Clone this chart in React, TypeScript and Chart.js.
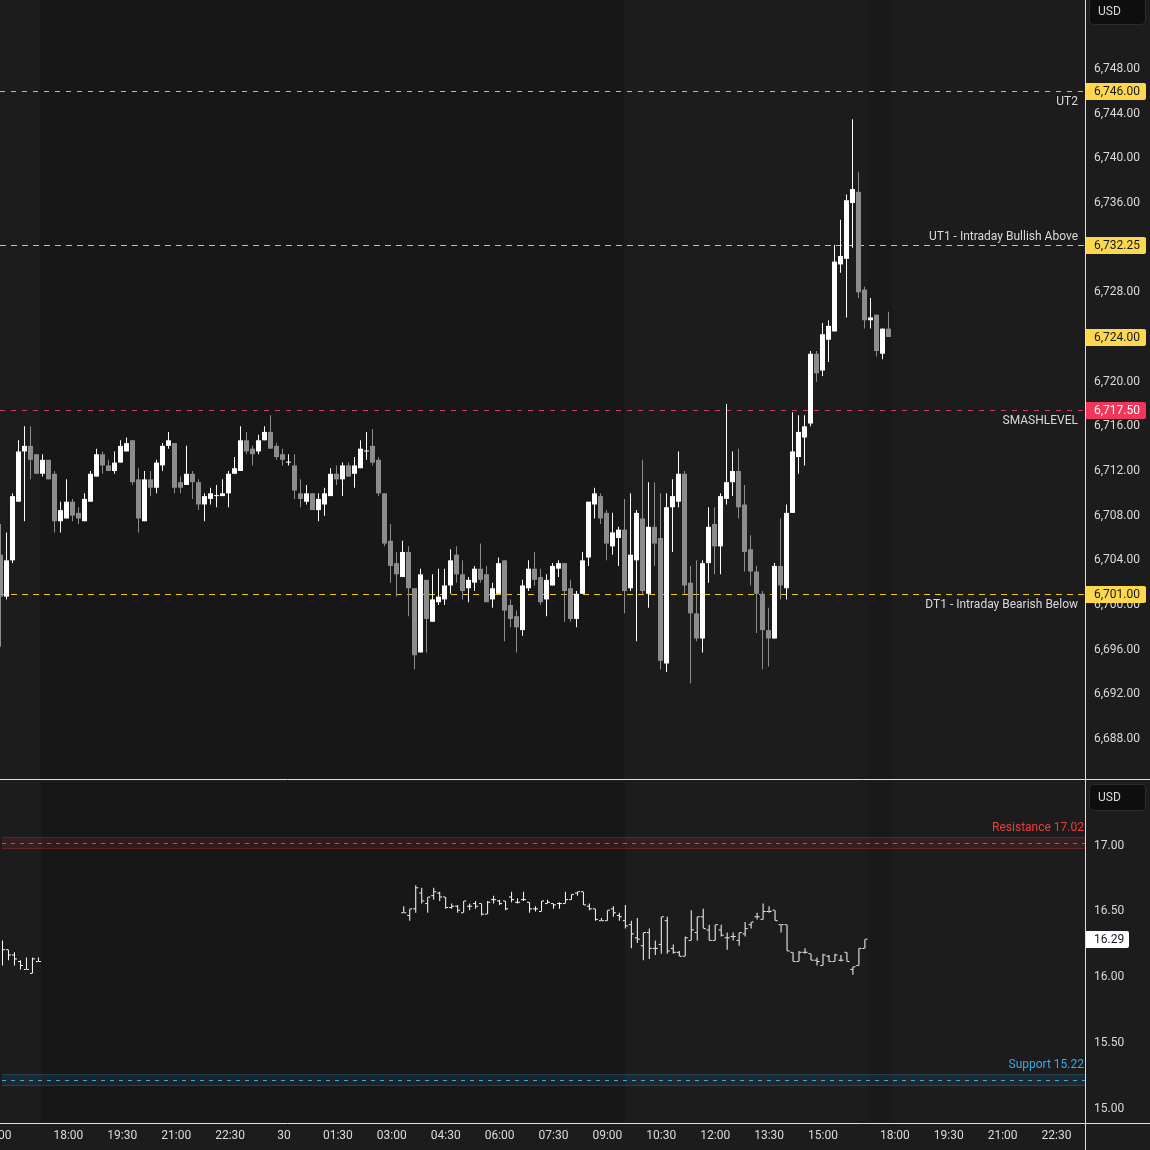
import { useEffect, useRef } from 'react';
import { Chart, registerables } from 'chart.js';
Chart.register(...registerables);

// ---------------- DATA ----------------
// E-mini S&P 500, 10-minute candles. Bar index 0 = 18:00 session open (6 bars per hour).
const esFirstBar = -11;
const esOpen = [
  6704.5, 6700.75, 6704, 6709.25, 6713.75, 6714.25, 6713.5, 6711.75, 6713, 6711.75,
  6707.5, 6707.75, 6709.25, 6708.25, 6707.5, 6709.25, 6711.5, 6713.5, 6712.5, 6712,
  6712.75, 6713.75, 6714.75, 6711.25, 6707.5, 6711.25, 6710.5, 6712.5, 6714.25, 6714.5,
  6711, 6710.75, 6711.75, 6711, 6709, 6709.5, 6709.75, 6709.75, 6710, 6711.75,
  6712, 6714.75, 6714, 6713.75, 6714.75, 6715.5, 6714.25, 6713.5, 6712.75, 6712.5,
  6710, 6709.25, 6710, 6708.5, 6709, 6709.75, 6711.75, 6711.25, 6712.5, 6711.75,
  6712.25, 6713.75, 6714.25, 6713, 6710, 6705.75, 6703.75, 6702.5, 6704.75, 6701.5,
  6695.75, 6702.25, 6698.5, 6700.25, 6700.5, 6701.75, 6704.5, 6702.75, 6701.5, 6702,
  6703.25, 6702.75, 6700.5, 6701, 6704, 6700, 6699, 6697.75, 6701.5, 6703.25,
  6702.5, 6700.5, 6701.75, 6703.25, 6703.75, 6701.5, 6698.75, 6701, 6704.25, 6709,
  6709.75, 6708.25, 6705.25, 6706, 6706.75, 6701.5, 6704, 6707.75, 6701, 6707,
  6706, 6694.75, 6708.75, 6709.25, 6711.75, 6702, 6699.25, 6697, 6703.75, 6707.25,
  6705.25, 6709.5, 6711, 6712, 6709, 6705, 6703, 6701, 6697.75, 6697,
  6703.5, 6701.5, 6708.25, 6713.25, 6715, 6716.25, 6722.5, 6721, 6723.75, 6724.5,
  6730.5, 6731, 6736, 6737, 6728.25, 6725.5, 6726, 6722.5, 6724.75,
];
const esHigh = [
  6707.25, 6706.5, 6710, 6714.75, 6716, 6716, 6713.5, 6713.5, 6713, 6712,
  6709.25, 6711.25, 6709.5, 6708.75, 6710, 6712, 6714, 6713.75, 6713, 6713.75,
  6714.75, 6715, 6714.75, 6712.25, 6712, 6712, 6713, 6714.5, 6715.5, 6714.5,
  6711.5, 6714.25, 6712, 6711.25, 6710, 6710.5, 6710.75, 6711.25, 6712, 6713.25,
  6716, 6715.5, 6714.25, 6715.25, 6716, 6717, 6714.5, 6714, 6713.5, 6713.5,
  6711.25, 6710.75, 6710, 6710, 6710.5, 6712.25, 6712.5, 6712.75, 6712.75, 6713.25,
  6714.75, 6715.5, 6715.75, 6713.25, 6710, 6707.25, 6704.75, 6705.75, 6705.25, 6701.5,
  6703.25, 6702.25, 6702.75, 6703.25, 6703.25, 6705, 6705.25, 6704, 6702.5, 6703.5,
  6705.5, 6703.5, 6702, 6704.25, 6704, 6700.5, 6699.5, 6702.25, 6704, 6704.75,
  6703.25, 6702.75, 6703.75, 6704, 6703.75, 6702.25, 6701.25, 6704.75, 6709.25, 6710.5,
  6710, 6708.5, 6708.25, 6707, 6709.5, 6710, 6708.5, 6713, 6711, 6711,
  6710, 6710, 6711.25, 6713.75, 6712, 6703.5, 6704, 6704, 6708.75, 6708.75,
  6710, 6718, 6713.75, 6714, 6710.75, 6706.25, 6703.5, 6701.25, 6699.75, 6703.75,
  6707.75, 6709, 6717.25, 6717, 6717, 6722.75, 6722.75, 6725.25, 6725.5, 6732.25,
  6734.5, 6736.75, 6743.5, 6738.75, 6728.5, 6727.5, 6726, 6724.75, 6726.25,
];
const esLow = [
  6696.25, 6700.5, 6703.75, 6709.25, 6707.5, 6711.25, 6711.75, 6711.5, 6711.25, 6706.5,
  6706.5, 6707.75, 6707.5, 6707.25, 6707.5, 6709.25, 6711.5, 6711.75, 6712, 6711.75,
  6712.75, 6713.75, 6710.75, 6706.5, 6707.5, 6709.75, 6710, 6712, 6714, 6710,
  6710, 6710.75, 6709.5, 6708.5, 6707.5, 6709, 6708.75, 6709.75, 6708.75, 6711.75,
  6712, 6713.5, 6712.5, 6713.5, 6714.75, 6714, 6713, 6712.5, 6712.5, 6709.5,
  6708.75, 6709, 6708.5, 6707.5, 6708, 6709.75, 6710.75, 6709.75, 6711.5, 6710.5,
  6712.25, 6713, 6712.5, 6709.75, 6705.25, 6702, 6700.75, 6702.5, 6699, 6694.25,
  6695.75, 6695.75, 6698.5, 6700, 6700, 6701, 6702, 6700.5, 6700.25, 6701.25,
  6702, 6700.25, 6699.75, 6701, 6696.75, 6698, 6695.75, 6697.25, 6701.25, 6701.75,
  6700, 6699, 6701.75, 6702.5, 6698.5, 6698.5, 6698, 6701, 6703.5, 6707.75,
  6707.25, 6704, 6704.5, 6703.5, 6699.25, 6701.25, 6696.75, 6701, 6699.75, 6703.5,
  6694.25, 6694, 6704.75, 6708.75, 6701, 6693, 6696.75, 6695.75, 6702, 6702.75,
  6702.75, 6709, 6709.75, 6707.75, 6703, 6701.75, 6697.5, 6694.25, 6694.5, 6697,
  6700.5, 6700.5, 6708.25, 6711.75, 6712.5, 6716, 6720, 6720.5, 6721.75, 6724.5,
  6729.75, 6725.75, 6732, 6727.5, 6724.75, 6724.75, 6722.25, 6722, 6724,
];
const esClose = [
  6700.75, 6704, 6709.75, 6713.75, 6714.25, 6713, 6711.75, 6713, 6711.25, 6707.5,
  6708.5, 6709.25, 6708, 6707.75, 6709.5, 6711.75, 6713.5, 6712.5, 6712, 6712.75,
  6714.25, 6714.5, 6711, 6707.75, 6711.25, 6710.5, 6712.75, 6714.25, 6714.75, 6710.5,
  6710.5, 6711.75, 6711, 6709, 6709.75, 6710, 6709.75, 6710, 6711.75, 6712.25,
  6714.75, 6713.75, 6713.5, 6714.75, 6715.5, 6714, 6713.25, 6713, 6712.75, 6710.25,
  6709.5, 6710, 6708.5, 6709.5, 6710, 6711.75, 6711.25, 6712.5, 6711.5, 6712.5,
  6714, 6713.75, 6712.75, 6710, 6705.5, 6703.5, 6702.75, 6704.75, 6701.5, 6695.5,
  6702.75, 6698.75, 6700.5, 6700.75, 6701.75, 6704, 6702.75, 6701.25, 6702.25, 6703.25,
  6702.25, 6700.25, 6701.5, 6703.75, 6699.5, 6698.75, 6698, 6701.75, 6703.25, 6702.25,
  6700.25, 6702.25, 6703.5, 6703.75, 6701.25, 6698.75, 6701, 6704, 6709.25, 6710,
  6707.75, 6705.5, 6706.5, 6706.75, 6701.25, 6704.5, 6708.25, 6701.25, 6707, 6705.5,
  6695, 6708.75, 6709.75, 6711.75, 6701.75, 6699.25, 6697, 6703.75, 6707, 6705.25,
  6709.75, 6711, 6712, 6708.75, 6704.75, 6703, 6701, 6697.75, 6697, 6703.5,
  6701.75, 6708.25, 6713.75, 6715.5, 6716, 6722.5, 6720.75, 6724.25, 6725, 6730.75,
  6731.25, 6736.25, 6737.25, 6728, 6725.5, 6725.75, 6722.75, 6724.75, 6724,
];

// VIX, 10-minute OHLC bars: previous afternoon, then the current session
const vixPrevFirstBar = -11;
const vixPrevOpen = [16.25, 16.21, 16.17, 16.12, 16.06, 16.03, 16.12];
const vixPrevHigh = [16.28, 16.21, 16.19, 16.13, 16.15, 16.15, 16.15];
const vixPrevLow = [16.09, 16.13, 16.09, 16.06, 16.06, 16.03, 16.12];
const vixPrevClose = [16.21, 16.17, 16.14, 16.09, 16.06, 16.14, 16.12];

const vixFirstBar = 56;
const vixOpen = [
  16.49, 16.47, 16.52, 16.64, 16.56, 16.62, 16.64, 16.61, 16.53, 16.54, 16.49, 16.54, 16.56, 16.56, 16.48, 16.59, 16.58, 16.58, 16.61, 16.57,
  16.59, 16.57, 16.52, 16.50, 16.56, 16.56, 16.56, 16.56, 16.59, 16.64, 16.65, 16.54, 16.52, 16.43, 16.43, 16.52, 16.47, 16.43,
  16.40, 16.30, 16.24, 16.34, 16.22, 16.25, 16.43, 16.22, 16.19, 16.16, 16.28, 16.34, 16.46, 16.36, 16.28, 16.36, 16.30, 16.31, 16.28, 16.33,
  16.40, 16.46, 16.44, 16.50, 16.51, 16.40, 16.40, 16.19, 16.12, 16.19, 16.18, 16.13, 16.09, 16.16, 16.12, 16.13, 16.19, 16.06, 16.09, 16.22,
];
const vixHigh = [
  16.54, 16.52, 16.70, 16.68, 16.61, 16.68, 16.65, 16.61, 16.56, 16.55, 16.58, 16.56, 16.58, 16.56, 16.58, 16.62, 16.59, 16.58, 16.65, 16.60,
  16.65, 16.57, 16.54, 16.58, 16.59, 16.56, 16.57, 16.65, 16.63, 16.65, 16.65, 16.56, 16.52, 16.45, 16.51, 16.54, 16.49, 16.55,
  16.43, 16.45, 16.34, 16.37, 16.28, 16.46, 16.46, 16.25, 16.20, 16.31, 16.51, 16.46, 16.52, 16.40, 16.40, 16.40, 16.34, 16.34, 16.34, 16.42,
  16.42, 16.49, 16.56, 16.54, 16.51, 16.40, 16.40, 16.19, 16.20, 16.22, 16.18, 16.15, 16.18, 16.17, 16.18, 16.17, 16.19, 16.08, 16.22, 16.29,
];
const vixLow = [
  16.49, 16.43, 16.49, 16.56, 16.49, 16.59, 16.58, 16.52, 16.52, 16.49, 16.49, 16.51, 16.52, 16.47, 16.48, 16.56, 16.55, 16.51, 16.57, 16.56,
  16.58, 16.49, 16.50, 16.50, 16.56, 16.52, 16.52, 16.56, 16.59, 16.62, 16.55, 16.51, 16.43, 16.43, 16.43, 16.46, 16.43, 16.37,
  16.22, 16.26, 16.13, 16.14, 16.17, 16.18, 16.18, 16.18, 16.16, 16.16, 16.28, 16.28, 16.37, 16.28, 16.28, 16.31, 16.21, 16.28, 16.24, 16.31,
  16.37, 16.44, 16.44, 16.49, 16.43, 16.34, 16.20, 16.12, 16.12, 16.18, 16.13, 16.09, 16.09, 16.12, 16.12, 16.12, 16.12, 16.02, 16.09, 16.22,
];
const vixClose = [
  16.49, 16.52, 16.68, 16.58, 16.61, 16.65, 16.61, 16.53, 16.54, 16.51, 16.58, 16.54, 16.54, 16.48, 16.57, 16.59, 16.56, 16.52, 16.59, 16.57,
  16.59, 16.52, 16.52, 16.58, 16.57, 16.55, 16.56, 16.59, 16.63, 16.65, 16.55, 16.52, 16.44, 16.43, 16.51, 16.49, 16.46, 16.39,
  16.33, 16.29, 16.34, 16.22, 16.22, 16.46, 16.20, 16.19, 16.16, 16.30, 16.36, 16.46, 16.37, 16.28, 16.40, 16.32, 16.30, 16.31, 16.34, 16.37,
  16.42, 16.46, 16.50, 16.50, 16.43, 16.40, 16.20, 16.12, 16.19, 16.19, 16.13, 16.12, 16.17, 16.12, 16.17, 16.13, 16.12, 16.08, 16.22, 16.29,
];

// Time axis
const timeTickLabels = ['15:00', '18:00', '19:30', '21:00', '22:30', '30', '01:30', '03:00', '04:30', '06:00', '07:30', '09:00', '10:30', '12:00', '13:30', '15:00', '18:00', '19:30', '21:00', '22:30'];
const timeTickBars = [-12, 0, 9, 18, 27, 36, 45, 54, 63, 72, 81, 90, 99, 108, 117, 126, 138, 147, 156, 165];
// Session shading (bar indices): overnight 16:15 -> 09:30, post-close 16:15 -> 17:00
const overnightFrom = -4.5;
const overnightTo = 93;
const postCloseFrom = 133.5;
const postCloseTo = 137.5;

// Price axis ticks
const esTicks = [6688, 6692, 6696, 6700, 6704, 6708, 6712, 6716, 6720, 6724, 6728, 6732, 6736, 6740, 6744, 6748];
const vixTicks = [15, 15.5, 16, 16.5, 17];

// Key levels
const levelNames = ['UT2', 'UT1 - Intraday Bullish Above', 'SMASHLEVEL', 'DT1 - Intraday Bearish Below'];
const levelValues = [6746.0, 6732.25, 6717.5, 6701.0];
const levelKinds = ['ut2', 'yellow', 'smash', 'yellow'];
const levelLabelAbove = [false, true, false, false];

const vixResistance = 17.02;
const vixSupport = 15.22;
const vixZoneHalf = 0.045;

// ---------------- STYLE ----------------
const FONT = 'Roboto, "Noto Sans", "DejaVu Sans", sans-serif';
const BG = '#1c1c1c';
const BG_NIGHT = '#171717';
const BG_POST = '#191919';
const UP = '#ffffff';
const DOWN = '#8c8c8c';
const TEXT = '#dadada';
const SEP = '#e0e0e0';
const YELLOW_BOX = '#fdd84e';
const RED_BOX = '#f0365a';
const AXIS_W = 65;
const BAR_PX = 6;
const X_MIN = -11 - 0.5 / BAR_PX;
const X_MAX = X_MIN + 1085 / BAR_PX;

const levelStyle: any = {
  ut2: { line: 'rgba(235,225,185,0.8)', box: YELLOW_BOX, boxText: '#131722', dash: [5, 6] },
  yellow: { line: '#f2c414', box: YELLOW_BOX, boxText: '#131722', dash: [6, 5] },
  smash: { line: '#d23863', box: RED_BOX, boxText: '#ffffff', dash: [5, 6] },
};

const fmt2 = (v: number) => v.toLocaleString('en-US', { minimumFractionDigits: 2, maximumFractionDigits: 2 });

function paintBackground(chart: any) {
  const { ctx, chartArea: a, scales } = chart;
  const x = scales.x;
  ctx.save();
  ctx.fillStyle = BG;
  ctx.fillRect(0, 0, chart.width, chart.height);
  const band = (from: number, to: number, color: string) => {
    const x0 = Math.max(a.left, Math.round(x.getPixelForValue(from)));
    const x1 = Math.min(a.right, Math.round(x.getPixelForValue(to)));
    if (x1 > x0) {
      ctx.fillStyle = color;
      ctx.fillRect(x0, a.top, x1 - x0, a.bottom - a.top);
    }
  };
  band(overnightFrom, overnightTo, BG_NIGHT);
  band(postCloseFrom, postCloseTo, BG_POST);
  ctx.restore();
}

function priceBox(ctx: any, yc: number, fill: string, color: string, text: string, w = 60) {
  ctx.save();
  ctx.fillStyle = fill;
  ctx.beginPath();
  ctx.roundRect(1086, Math.round(yc) - 8, w, 17, [0, 2, 2, 0]);
  ctx.fill();
  ctx.fillStyle = color;
  ctx.font = `12px ${FONT}`;
  ctx.textAlign = 'left';
  ctx.textBaseline = 'middle';
  ctx.fillText(text, 1094, Math.round(yc) + 1);
  ctx.restore();
}

function usdBox(ctx: any, top: number) {
  ctx.save();
  ctx.fillStyle = '#0e0e0e';
  ctx.strokeStyle = '#2c2c2c';
  ctx.lineWidth = 1;
  ctx.beginPath();
  ctx.roundRect(1089.5, top + 0.5, 56, 26, 4);
  ctx.fill();
  ctx.stroke();
  ctx.fillStyle = TEXT;
  ctx.font = `12px ${FONT}`;
  ctx.textAlign = 'left';
  ctx.textBaseline = 'middle';
  ctx.fillText('USD', 1098, top + 14);
  ctx.restore();
}

function separators(chart: any, hy: number) {
  const { ctx } = chart;
  ctx.save();
  ctx.strokeStyle = SEP;
  ctx.lineWidth = 1;
  ctx.setLineDash([]);
  ctx.beginPath();
  ctx.moveTo(1085.5, 0);
  ctx.lineTo(1085.5, chart.height);
  ctx.moveTo(0, hy + 0.5);
  ctx.lineTo(chart.width, hy + 0.5);
  ctx.stroke();
  ctx.restore();
}

const topOverlay = {
  id: 'topOverlay',
  beforeDraw(chart: any) {
    paintBackground(chart);
  },
  beforeDatasetsDraw(chart: any) {
    const { ctx, chartArea: a, scales } = chart;
    const y = scales.y;
    ctx.save();
    levelValues.forEach((v, i) => {
      const st = levelStyle[levelKinds[i]];
      const py = Math.round(y.getPixelForValue(v)) + 0.5;
      ctx.strokeStyle = st.line;
      ctx.lineWidth = 1;
      ctx.setLineDash(st.dash);
      ctx.beginPath();
      ctx.moveTo(a.left, py);
      ctx.lineTo(a.right, py);
      ctx.stroke();
      ctx.setLineDash([]);
      ctx.fillStyle = TEXT;
      ctx.font = `12px ${FONT}`;
      ctx.textAlign = 'right';
      ctx.textBaseline = 'middle';
      ctx.fillText(levelNames[i], a.right - 7, levelLabelAbove[i] ? py - 9 : py + 10);
    });
    ctx.restore();
  },
  afterDraw(chart: any) {
    const { ctx, scales } = chart;
    const y = scales.y;
    levelValues.forEach((v, i) => {
      const st = levelStyle[levelKinds[i]];
      priceBox(ctx, y.getPixelForValue(v), st.box, st.boxText, fmt2(v));
    });
    const last = esClose[esClose.length - 1];
    priceBox(ctx, y.getPixelForValue(last), YELLOW_BOX, '#131722', fmt2(last));
    usdBox(ctx, -2);
    separators(chart, chart.height - 1);
  },
};

const bottomOverlay = {
  id: 'bottomOverlay',
  beforeDraw(chart: any) {
    paintBackground(chart);
  },
  beforeDatasetsDraw(chart: any) {
    const { ctx, chartArea: a, scales } = chart;
    const y = scales.y;
    const zone = (v: number, line: string, fill: string, edge: string, label: string) => {
      const y0 = Math.round(y.getPixelForValue(v + vixZoneHalf));
      const y1 = Math.round(y.getPixelForValue(v - vixZoneHalf));
      ctx.fillStyle = fill;
      ctx.fillRect(a.left, y0, a.right - a.left, y1 - y0);
      ctx.strokeStyle = edge;
      ctx.lineWidth = 1;
      ctx.setLineDash([]);
      ctx.beginPath();
      ctx.moveTo(a.left, y0 + 0.5);
      ctx.lineTo(a.right, y0 + 0.5);
      ctx.moveTo(a.left, y1 - 0.5);
      ctx.lineTo(a.right, y1 - 0.5);
      ctx.stroke();
      const py = Math.round(y.getPixelForValue(v)) + 0.5;
      ctx.strokeStyle = line;
      ctx.setLineDash([4, 5]);
      ctx.beginPath();
      ctx.moveTo(a.left, py);
      ctx.lineTo(a.right, py);
      ctx.stroke();
      ctx.setLineDash([]);
      ctx.fillStyle = line;
      ctx.font = `12px ${FONT}`;
      ctx.textAlign = 'right';
      ctx.textBaseline = 'middle';
      ctx.fillText(label, a.right - 1, py - 16);
    };
    ctx.save();
    zone(vixResistance, '#f23b3b', 'rgba(242,54,69,0.13)', 'rgba(242,54,69,0.22)', `Resistance ${vixResistance.toFixed(2)}`);
    zone(vixSupport, '#3aa9e4', 'rgba(58,169,228,0.10)', 'rgba(58,169,228,0.2)', `Support ${vixSupport.toFixed(2)}`);
    ctx.restore();
  },
  afterDraw(chart: any) {
    const { ctx, chartArea: a, scales } = chart;
    const x = scales.x;
    const y = scales.y;
    ctx.save();
    ctx.beginPath();
    ctx.rect(0, a.bottom, a.right, chart.height - a.bottom);
    ctx.clip();
    ctx.fillStyle = TEXT;
    ctx.font = `12px ${FONT}`;
    ctx.textAlign = 'center';
    ctx.textBaseline = 'middle';
    timeTickBars.forEach((b, i) => {
      ctx.fillText(timeTickLabels[i], x.getPixelForValue(b), a.bottom + 13);
    });
    ctx.restore();
    const last = vixClose[vixClose.length - 1];
    priceBox(ctx, y.getPixelForValue(last), '#ffffff', '#131722', last.toFixed(2), 43);
    usdBox(ctx, 4);
    separators(chart, a.bottom);
  },
};

const barCommon = {
  grouped: false,
  borderWidth: 0,
  inflateAmount: 0,
  barPercentage: 1,
  categoryPercentage: 1,
  minBarLength: 1,
};

function candleDatasets() {
  const colors = esClose.map((c, i) => (c >= esOpen[i] ? UP : DOWN));
  return [
    {
      type: 'bar',
      label: 'body',
      data: esOpen.map((o, i) => ({ x: esFirstBar + i, y: [o, esClose[i]] })),
      backgroundColor: colors,
      barThickness: 5,
      maxBarThickness: 5,
      ...barCommon,
    },
    {
      type: 'bar',
      label: 'wick',
      data: esHigh.map((h, i) => ({ x: esFirstBar + i, y: [esLow[i], h] })),
      backgroundColor: colors,
      barThickness: 1,
      maxBarThickness: 1,
      ...barCommon,
    },
  ];
}

function ohlcDatasets(first: number, o: number[], h: number[], l: number[], c: number[]) {
  const tick = (vals: number[], shift: number) => ({
    type: 'scatter',
    data: vals.map((v, i) => ({ x: first + i + shift, y: v })),
    pointStyle: 'line',
    pointRadius: 1,
    pointHoverRadius: 1,
    borderColor: '#ffffff',
    backgroundColor: '#ffffff',
    borderWidth: 1,
    showLine: false,
  });
  return [
    tick(o, -0.25),
    tick(c, 0.25),
    {
      type: 'bar',
      data: h.map((hv, i) => ({ x: first + i, y: [l[i], hv] })),
      backgroundColor: '#ffffff',
      barThickness: 1,
      maxBarThickness: 1,
      ...barCommon,
    },
  ];
}

const zeroPad = (s: any) => {
  s.paddingTop = 0;
  s.paddingBottom = 0;
  s.paddingLeft = 0;
  s.paddingRight = 0;
};

function baseOptions(yMin: number, yMax: number, ticks: number[], fmt: (v: number) => string, bottomPad: number) {
  return {
    animation: false,
    responsive: false,
    maintainAspectRatio: false,
    events: [],
    layout: { padding: { left: 0, right: 0, top: 0, bottom: bottomPad } },
    plugins: { legend: { display: false }, tooltip: { enabled: false } },
    scales: {
      x: {
        type: 'linear',
        min: X_MIN,
        max: X_MAX,
        display: false,
        offset: false,
        grid: { display: false },
        afterFit: zeroPad,
      },
      y: {
        position: 'right',
        min: yMin,
        max: yMax,
        grid: { display: false, drawTicks: false },
        border: { display: false },
        afterFit: (s: any) => {
          s.width = AXIS_W;
          zeroPad(s);
        },
        afterBuildTicks: (s: any) => {
          s.ticks = ticks.map((v) => ({ value: v }));
        },
        ticks: {
          color: TEXT,
          font: { family: FONT, size: 12 },
          padding: 9,
          autoSkip: false,
          callback: (v: any) => fmt(Number(v)),
        },
      },
    },
  };
}

export default function App() {
  const topRef = useRef<HTMLCanvasElement>(null);
  const botRef = useRef<HTMLCanvasElement>(null);
  useEffect(() => {
    document.body.style.margin = '0';
    document.body.style.background = BG;
    const top = new Chart(topRef.current as any, {
      type: 'bar',
      data: { datasets: candleDatasets() as any },
      options: baseOptions(6684.328, 6754.179, esTicks, fmt2, 0) as any,
      plugins: [topOverlay],
    });
    const bot = new Chart(botRef.current as any, {
      type: 'bar',
      data: {
        datasets: [
          ...ohlcDatasets(vixPrevFirstBar, vixPrevOpen, vixPrevHigh, vixPrevLow, vixPrevClose),
          ...ohlcDatasets(vixFirstBar, vixOpen, vixHigh, vixLow, vixClose),
        ] as any,
      },
      options: baseOptions(14.8943, 17.483, vixTicks, (v) => v.toFixed(2), 27) as any,
      plugins: [bottomOverlay],
    });
    return () => {
      top.destroy();
      bot.destroy();
    };
  }, []);
  return (
    <div style={{ width: 1150, height: 1150, background: BG }}>
      <canvas ref={topRef} width={1150} height={780} style={{ display: 'block' }} />
      <canvas ref={botRef} width={1150} height={370} style={{ display: 'block' }} />
    </div>
  );
}
